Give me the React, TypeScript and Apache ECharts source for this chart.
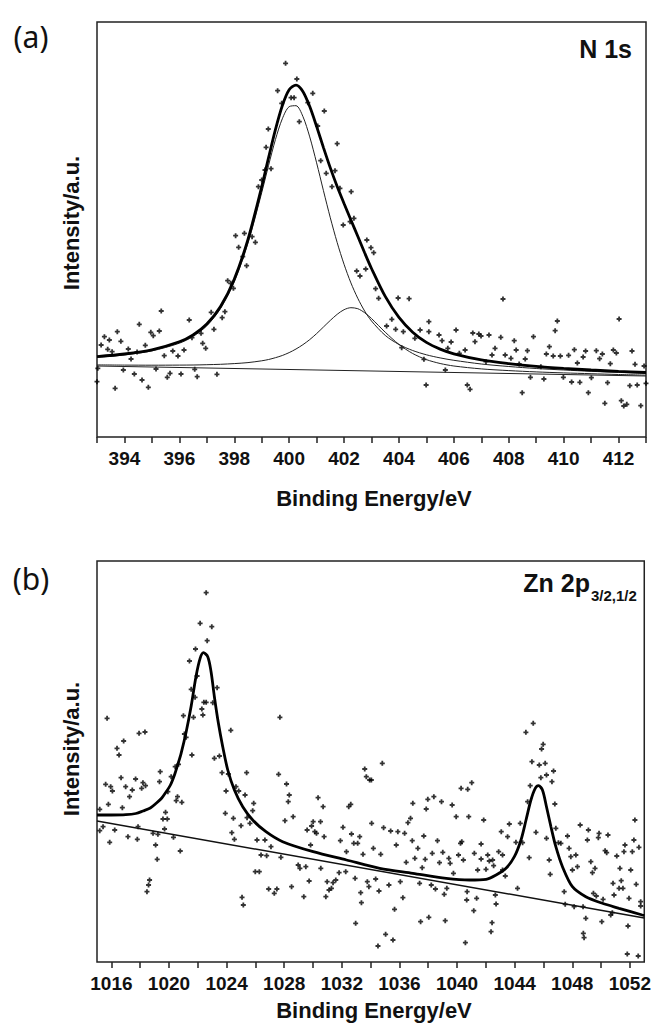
import React, { useEffect, useRef } from "react";
import * as echarts from "echarts";

// ---------- Panel (a) N 1s ----------
const energyA = [393, 394, 395, 396, 396.5, 397, 397.5, 398, 398.5, 399, 399.25, 399.5, 399.75, 400, 400.25, 400.5, 400.75, 401, 401.25, 401.5, 401.75, 402, 402.25, 402.5, 402.75, 403, 403.5, 404, 404.5, 405, 405.5, 406, 407, 408, 409, 410, 411, 412, 413];
const envelopeA = [80.4, 83.0, 87.2, 95.2, 102.1, 113.0, 130.5, 157.8, 197.6, 250.1, 279.3, 307.4, 331.3, 347.2, 351.9, 345.6, 330.4, 310.6, 289.4, 269.1, 250.5, 233.5, 217.0, 200.7, 184.2, 168.5, 140.6, 119.6, 104.8, 94.6, 87.9, 83.2, 77.1, 73.4, 70.6, 68.6, 67.0, 65.6, 64.5];
const comp1A = [79.6, 82.1, 86.1, 93.8, 100.5, 111.2, 128.4, 155.0, 193.8, 244.3, 271.6, 297.4, 318.2, 330.3, 331.3, 320.6, 300.1, 274.2, 246.3, 219.2, 194.4, 172.7, 154.1, 138.7, 126.0, 116.0, 101.6, 92.5, 86.5, 82.2, 79.1, 76.7, 73.0, 70.5, 68.5, 67.0, 65.7, 64.6, 63.7];
const comp2A = [72.1, 71.9, 71.8, 71.9, 72.0, 72.3, 72.7, 73.4, 74.4, 76.2, 77.5, 79.3, 81.5, 84.4, 88.0, 92.3, 97.4, 103.4, 110.0, 116.6, 122.7, 127.3, 129.3, 128.3, 124.3, 118.5, 104.8, 92.6, 83.5, 77.4, 73.5, 71.0, 68.1, 66.4, 65.1, 64.1, 63.3, 62.5, 61.85];
const baselineA = [[393, 71], [413, 61]];
const pointsA = [
  [393.03, 68.7], [393.0, 55.3], [393.15, 92], [393.27, 100.3], [393.39, 87.7], [393.45, 97], [393.55, 85.3], [393.66, 48.7], [393.74, 105.3], [393.87, 95.7], [393.96, 67], [394.14, 88], [394.24, 78], [394.36, 63], [394.46, 85], [394.54, 112.7], [394.64, 57], [394.76, 91.7], [394.87, 49.7], [394.96, 104.7], [395.05, 101.3], [395.15, 68], [395.27, 106], [395.34, 126], [395.45, 81.3], [395.56, 59.7], [395.66, 63.7], [395.76, 86], [395.95, 81], [396.06, 63], [396.17, 87], [396.36, 117], [396.46, 99.3], [396.56, 67.7], [396.65, 60.3], [396.79, 103.7], [396.85, 93.7], [396.96, 88.7], [397.16, 124.7], [397.26, 107.7], [397.37, 62.7], [397.56, 119.3], [397.66, 125.3], [397.76, 156.3], [397.87, 153.7], [397.97, 148.7], [398.16, 189.7], [398.31, 180.3], [398.45, 171.3], [398.77, 194.7],
  [399.87, 373.7], [400.28, 358], [399.58, 346.3], [399.73, 333.7], [400.07, 339.3], [400.18, 339.3], [400.86, 343.7], [400.68, 334.3], [401.28, 326], [400.37, 315.3], [401.04, 311], [399.24, 308], [399.16, 289.7], [399.34, 268.3], [399.12, 267], [401.75, 293.3], [401.15, 276.3], [401.35, 263.7], [401.67, 266.3], [399.0, 257], [398.88, 250.3], [401.56, 250.3], [401.85, 248.7], [402.26, 245.3], [401.97, 212], [402.36, 218.7], [402.22, 215.3], [398.05, 201.3], [398.37, 203.7], [398.65, 200.3], [402.83, 197], [402.98, 189.3], [403.08, 184.3], [402.46, 166], [402.58, 161], [402.79, 168], [403.15, 148.3], [403.26, 138.7], [403.97, 139], [404.37, 138.3], [403.74, 117.7], [403.55, 111], [403.88, 107.7], [404.16, 105.3], [404.58, 98.7], [404.77, 107], [405.09, 115.3], [404.1, 89.3], [404.91, 77.7],
  [405.09, 105.3], [404.99, 52], [405.46, 102], [405.57, 96.3], [405.69, 67], [405.78, 88.7], [405.9, 95], [406.08, 107], [406.2, 83.7], [406.41, 87], [406.49, 52], [406.59, 47.7], [406.69, 104], [406.77, 95.3], [406.91, 103], [406.99, 101], [407.17, 75.3], [407.28, 102], [407.39, 82], [407.5, 88.7], [407.71, 99.7], [407.79, 138], [407.87, 82], [408.08, 78.7], [408.2, 96.3], [408.27, 87], [408.38, 73], [408.49, 44.3], [408.6, 78], [408.68, 86.3], [408.79, 59.7], [408.9, 100.3], [409.17, 70.3], [409.28, 58], [409.37, 83], [409.48, 90.3], [409.62, 81], [409.69, 106.3], [409.77, 116], [409.88, 81], [409.99, 59.7], [410.18, 81.7], [410.29, 55], [410.39, 87.3], [410.5, 74], [410.59, 54.7], [410.71, 80], [410.8, 86], [410.9, 44.3], [411.01, 59.3], [411.19, 86.3], [411.31, 78.3], [411.41, 83], [411.5, 33.7], [411.6, 54.3], [411.7, 73.3], [411.81, 87], [411.92, 84], [412.02, 118], [412.1, 36.3], [412.19, 31], [412.3, 32.7], [412.41, 51.3], [412.49, 86], [412.6, 72.7], [412.68, 52], [412.81, 31.3], [412.93, 71], [413.0, 53.7],
];
const ticksA = [393, 394, 395, 396, 397, 398, 399, 400, 401, 402, 403, 404, 405, 406, 407, 408, 409, 410, 411, 412, 413];
const labelsA = [394, 396, 398, 400, 402, 404, 406, 408, 410, 412];

// ---------- Panel (b) Zn 2p ----------
const envelopeB = [
  [1015, 147], [1016, 147], [1017, 147.3], [1017.7, 148.5], [1018.19, 151], [1018.7, 154], [1019.11, 158.7], [1019.5, 164], [1019.81, 170.3], [1020.1, 177], [1020.38, 187], [1020.6, 197], [1020.84, 208.7], [1021.19, 230], [1021.54, 256], [1021.88, 286], [1022.16, 303.7], [1022.39, 309.3], [1022.69, 305.3], [1022.92, 290.3], [1023.15, 265.3], [1023.43, 238.7], [1023.73, 215.3], [1024.08, 192], [1024.54, 172], [1025.12, 155.3], [1025.81, 142], [1026.73, 130.3], [1027.89, 120.3], [1030.01, 110.3], [1032.32, 102], [1034.63, 93.7], [1036.93, 88.7], [1039.25, 83.7], [1040.86, 82], [1042.02, 82.7], [1042.71, 87], [1043.4, 93.7], [1043.98, 105.3], [1044.44, 122], [1044.79, 142], [1045.13, 162], [1045.43, 173.7], [1045.66, 176.3], [1045.93, 172], [1046.21, 155.3], [1046.52, 135.3], [1046.86, 115.3], [1047.32, 95.3], [1048.01, 75.3], [1048.94, 65.3], [1050.09, 58.7], [1051.25, 53.7], [1052.86, 47], [1053, 46.5],
];
const baselineB = [[1015, 141], [1053, 44]];
const pointsB = [
  [1022.58, 369.3], [1022.16, 338.7], [1022.97, 335.3], [1022.65, 321.3], [1021.84, 313], [1021.42, 301], [1021.95, 286], [1021.54, 272.7], [1023.34, 274.3], [1021.81, 264.7], [1022.58, 259.7], [1022.42, 259.7], [1022.28, 253], [1022.35, 247], [1023.04, 259.3], [1021.7, 244.7], [1021.0, 246.3], [1015.7, 243.7], [1017.92, 228.7], [1018.33, 230], [1021.07, 228], [1021.19, 224.7], [1024.29, 231.7], [1016.85, 221], [1016.39, 213.7], [1016.53, 207], [1021.59, 207], [1023.15, 203.7], [1023.5, 206], [1020.43, 195.3], [1020.66, 197.7], [1020.15, 185.3], [1023.68, 189.3], [1024.12, 188], [1025.39, 189.3], [1027.61, 187.7], [1027.7, 244.7], [1019.39, 190.3], [1019.34, 180.3], [1015.6, 177.7], [1015.95, 175.3], [1016.07, 171], [1016.67, 184.3], [1016.99, 175.3], [1017.26, 165.3], [1017.45, 172], [1017.68, 183], [1018.1, 173.7], [1018.19, 179.3], [1018.37, 176.3], [1015.79, 157.7], [1016.76, 154.3], [1019.92, 170.3], [1020.59, 165.3], [1020.5, 161.3], [1020.89, 159.7], [1023.96, 171], [1024.65, 175.3], [1024.84, 171], [1025.28, 167], [1025.88, 158.7], [1025.81, 151.3], [1025.42, 144.3], [1025.62, 138.7], [1023.91, 148.7], [1024.47, 143.7], [1025.0, 136.3], [1019.76, 149.7], [1019.58, 143], [1019.88, 143], [1019.69, 133], [1015.19, 152.7], [1015.19, 131.3], [1015.42, 135.3], [1016.23, 132], [1015.88, 119.7], [1017.15, 125.3], [1017.8, 122.7], [1017.85, 135.3], [1018.89, 128.7], [1019.23, 127.7], [1019.07, 117], [1019.18, 102.7], [1020.31, 124.7], [1020.78, 111], [1024.36, 129.3], [1024.54, 122.7], [1026.11, 122], [1026.66, 122], [1027.08, 115.3], [1026.39, 107], [1026.78, 106.3], [1027.77, 104.7], [1025.99, 90.3], [1026.27, 90.3], [1018.47, 70.3], [1018.58, 77], [1018.65, 82], [1025.07, 64.7], [1025.16, 57], [1026.92, 73], [1027.31, 68.7], [1027.49, 73],
  [1028.16, 178], [1028.35, 167], [1028.28, 160.3], [1028.62, 145.3], [1028.05, 141.3], [1028.51, 75.3], [1028.97, 97], [1029.09, 93.7], [1029.36, 65.3], [1029.5, 95.3], [1029.59, 132], [1029.73, 81], [1029.83, 117], [1029.9, 136], [1030.01, 140.3], [1030.12, 130.3], [1030.24, 128.7], [1030.35, 164.3], [1030.52, 140.3], [1030.54, 93.7], [1030.7, 155.3], [1030.77, 125.3], [1030.89, 65.3], [1030.98, 80.3], [1031.11, 72], [1031.28, 73.7], [1031.39, 79.3], [1031.58, 82], [1031.81, 89.3], [1031.9, 121.3], [1032.08, 134.7], [1032.27, 90.3], [1032.32, 110.3], [1032.48, 155.3], [1032.62, 157.7], [1032.67, 128], [1032.83, 118.7], [1032.92, 83.7], [1032.96, 38.7], [1033.1, 118.7], [1033.24, 125.3], [1033.31, 69.3], [1033.36, 59.3], [1033.47, 107.7], [1033.59, 193], [1033.7, 185.3], [1033.93, 182], [1034.05, 182], [1034.07, 138.7], [1033.77, 80.3], [1033.88, 75.3], [1034.19, 113.7], [1034.35, 83], [1034.51, 16], [1034.58, 71], [1034.7, 107.7], [1034.81, 198.7], [1034.9, 134.3], [1035.04, 27.7], [1035.27, 77], [1035.39, 131], [1035.55, 22], [1035.66, 52.7], [1035.78, 117], [1035.89, 130.3], [1036.06, 80.3], [1036.24, 64.3], [1036.36, 128.7], [1036.47, 99.7], [1036.59, 139.3], [1036.77, 143.7], [1036.89, 121.3], [1036.93, 158.7], [1037.07, 103.7], [1037.28, 113.7], [1037.4, 78.7], [1037.47, 40.3], [1037.58, 94.3], [1037.69, 126], [1037.79, 102.7], [1037.86, 153], [1037.97, 162.7], [1038.04, 44.7], [1038.21, 77], [1038.28, 108.7], [1038.39, 165.3], [1038.5, 73], [1038.64, 121.3], [1038.78, 99.3], [1038.92, 160.3], [1039.01, 109.7], [1039.11, 67.7], [1039.18, 41.3], [1039.29, 73.7], [1039.43, 103.7], [1039.52, 98.7], [1039.66, 157], [1039.75, 88.7], [1039.94, 145.3], [1040.1, 107], [1040.24, 118.7], [1040.28, 173.7], [1040.44, 102], [1040.58, 19.3], [1040.7, 70.3], [1040.74, 172.7], [1040.81, 145.3],
  [1045.29, 238.7], [1044.78, 229.7], [1045.98, 217.7], [1045.87, 213], [1045.2, 200.3], [1045.71, 197], [1046.12, 198.7], [1046.7, 191], [1046.21, 187], [1045.82, 184.3], [1046.59, 180.3], [1045.08, 176.3], [1044.9, 160.3], [1046.79, 158], [1041.02, 179.3], [1041.85, 142], [1043.07, 130.3], [1043.63, 138], [1044.39, 138.7], [1043.51, 125.3], [1045.48, 129.7], [1046.86, 133.7], [1040.33, 120.3], [1041.67, 118], [1041.2, 108.7], [1042.13, 107], [1042.47, 102], [1042.89, 110.3], [1043.16, 107], [1041.67, 103], [1042.24, 101], [1041.43, 92], [1042.01, 92.7], [1042.54, 96.3], [1043.16, 92], [1043.35, 86], [1044.09, 119.7], [1044.55, 119.3], [1045.01, 104.3], [1046.21, 123.7], [1046.4, 102], [1046.47, 87.7], [1047.04, 119.3], [1047.21, 118.7], [1047.67, 126], [1047.78, 113.7], [1047.9, 105.3], [1048.25, 107], [1048.36, 95.3], [1048.01, 92], [1048.55, 137], [1049.05, 122], [1049.12, 132], [1049.86, 128.7], [1049.81, 124.3], [1050.48, 127], [1049.29, 100.3], [1049.58, 93.7], [1049.4, 89.3], [1050.28, 111.3], [1050.39, 109.3], [1051.09, 106], [1051.59, 110.3], [1052.17, 110.3], [1051.66, 117], [1052.28, 122], [1052.63, 114.7], [1052.35, 142], [1051.31, 93.7], [1052.06, 92], [1051.4, 81.3], [1050.83, 78.7], [1051.52, 73.7], [1051.25, 73.7], [1050.9, 67], [1051.94, 63.7], [1052.44, 77.7], [1052.75, 60.3], [1047.44, 70.3], [1044.2, 73.7], [1042.66, 67], [1041.36, 63.7], [1040.67, 62], [1041.16, 51.3], [1042.71, 58], [1042.43, 39.3], [1042.36, 30.3], [1047.51, 57.7], [1048.13, 55.3], [1048.75, 55.3], [1048.94, 43.7], [1048.77, 28.7], [1048.82, 24.3], [1049.47, 68.7], [1049.67, 66], [1050.05, 40.3], [1050.14, 62.7], [1050.67, 47], [1050.78, 49.3], [1051.87, 36], [1052.75, 56], [1051.82, 8], [1052.58, 6],
];
const ticksB = [1016, 1018, 1020, 1022, 1024, 1026, 1028, 1030, 1032, 1034, 1036, 1038, 1040, 1042, 1044, 1046, 1048, 1050, 1052];
const labelsB = [1016, 1020, 1024, 1028, 1032, 1036, 1040, 1044, 1048, 1052];

const FONT = '"Liberation Sans", Arial, sans-serif';
const PLUS = "path://M0,1.6H5V3.4H0ZM1.6,0H3.4V5H1.6Z";

function xAxisFor(gridIndex: number, min: number, max: number, ticks: number[], labels: number[]) {
  return {
    type: "value",
    gridIndex,
    min,
    max,
    splitLine: { show: false },
    axisLine: { show: false },
    axisTick: {
      show: true,
      inside: false,
      length: 6,
      customValues: ticks,
      lineStyle: { color: "#222", width: 1.5 },
    },
    axisLabel: {
      show: true,
      customValues: labels,
      formatter: (v: number) => String(v),
      margin: 12,
      color: "#111",
      fontSize: 19,
      fontWeight: "bold",
      fontFamily: FONT,
    },
  };
}

export default function App() {
  const ref = useRef<HTMLDivElement>(null);
  useEffect(() => {
    if (!ref.current) return;
    const chart = echarts.init(ref.current, null, { renderer: "svg" });
    const thin = { color: "#222", width: 1 };
    const option: any = {
      animation: false,
      backgroundColor: "#fff",
      grid: [
        { left: 97, top: 22, width: 549, height: 415, show: true, borderColor: "#222", borderWidth: 1.5, backgroundColor: "transparent" },
        { left: 97, top: 561, width: 548.5, height: 401, show: true, borderColor: "#222", borderWidth: 1.5, backgroundColor: "transparent" },
      ],
      xAxis: [xAxisFor(0, 393, 413, ticksA, labelsA), xAxisFor(1, 1015, 1053, ticksB, labelsB)],
      yAxis: [
        { type: "value", gridIndex: 0, min: 0, max: 415, show: false },
        { type: "value", gridIndex: 1, min: 0, max: 401, show: false },
      ],
      series: [
        { type: "line", xAxisIndex: 0, yAxisIndex: 0, data: baselineA, showSymbol: false, lineStyle: thin },
        { type: "line", xAxisIndex: 0, yAxisIndex: 0, data: energyA.map((e, i) => [e, comp2A[i]]), smooth: 0.3, showSymbol: false, lineStyle: thin },
        { type: "line", xAxisIndex: 0, yAxisIndex: 0, data: energyA.map((e, i) => [e, comp1A[i]]), smooth: 0.3, showSymbol: false, lineStyle: thin },
        { type: "line", xAxisIndex: 0, yAxisIndex: 0, data: energyA.map((e, i) => [e, envelopeA[i]]), smooth: 0.3, showSymbol: false, lineStyle: { color: "#000", width: 2.8 } },
        { type: "scatter", xAxisIndex: 0, yAxisIndex: 0, data: pointsA, symbol: PLUS, symbolSize: 5, itemStyle: { color: "#000" } },
        { type: "line", xAxisIndex: 1, yAxisIndex: 1, data: baselineB, showSymbol: false, lineStyle: { color: "#111", width: 1.5 } },
        { type: "line", xAxisIndex: 1, yAxisIndex: 1, data: envelopeB, smooth: 0.3, showSymbol: false, lineStyle: { color: "#000", width: 2.8 } },
        { type: "scatter", xAxisIndex: 1, yAxisIndex: 1, data: pointsB, symbol: PLUS, symbolSize: 5, itemStyle: { color: "#000" } },
      ],
      graphic: [
        { type: "text", x: 31, y: 36, style: { text: "(a)", font: '30px "Noto Sans", sans-serif', fill: "#111", textAlign: "center", textVerticalAlign: "middle", align: "center", verticalAlign: "middle" } },
        { type: "text", x: 31, y: 578, style: { text: "(b)", font: '30px "Noto Sans", sans-serif', fill: "#111", textAlign: "center", textVerticalAlign: "middle", align: "center", verticalAlign: "middle" } },
        { type: "text", x: 632, y: 49, style: { text: "N 1s", font: `bold 25px ${FONT}`, fill: "#111", textAlign: "right", textVerticalAlign: "middle", align: "right", verticalAlign: "middle" } },
        { type: "text", x: 590, y: 583, style: { text: "Zn 2p", font: `bold 25px ${FONT}`, fill: "#111", textAlign: "right", textVerticalAlign: "middle", align: "right", verticalAlign: "middle" } },
        { type: "text", x: 591, y: 595, style: { text: "3/2,1/2", font: `bold 15px ${FONT}`, fill: "#111", textAlign: "left", textVerticalAlign: "middle", align: "left", verticalAlign: "middle" } },
        { type: "text", x: 71, y: 223, rotation: Math.PI / 2, style: { text: "Intensity/a.u.", font: `bold 22px ${FONT}`, fill: "#111", textAlign: "center", textVerticalAlign: "middle", align: "center", verticalAlign: "middle" } },
        { type: "text", x: 71, y: 749, rotation: Math.PI / 2, style: { text: "Intensity/a.u.", font: `bold 22px ${FONT}`, fill: "#111", textAlign: "center", textVerticalAlign: "middle", align: "center", verticalAlign: "middle" } },
        { type: "text", x: 374, y: 498, style: { text: "Binding Energy/eV", font: `bold 22px ${FONT}`, fill: "#111", textAlign: "center", textVerticalAlign: "middle", align: "center", verticalAlign: "middle" } },
        { type: "text", x: 374, y: 1010, style: { text: "Binding Energy/eV", font: `bold 22px ${FONT}`, fill: "#111", textAlign: "center", textVerticalAlign: "middle", align: "center", verticalAlign: "middle" } },
      ],
    };
    chart.setOption(option);
    return () => chart.dispose();
  }, []);
  return <div ref={ref} style={{ position: "absolute", left: 0, top: 0, width: 654, height: 1030 }} />;
}
